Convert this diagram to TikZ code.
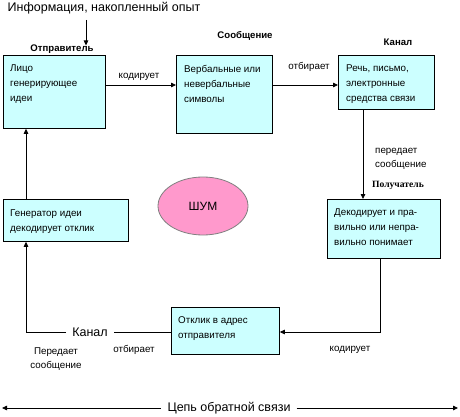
\documentclass[tikz,border=0pt]{standalone}
\usepackage{fontspec}
\setmainfont{Liberation Sans}
\newfontfamily\serifbold{Liberation Serif}
\usetikzlibrary{arrows.meta,shapes.geometric}
\definecolor{boxfill}{HTML}{CCFFFF}
\definecolor{noisefill}{HTML}{FF99CC}
\definecolor{noiseline}{HTML}{808080}
\begin{document}
\begin{tikzpicture}[x=1pt,y=-1pt,
  box/.style={draw=black, fill=boxfill, line width=0.8pt, anchor=north west, inner sep=0pt},
  txt/.style={anchor=north west, align=left, inner sep=0pt, font=\fontsize{9.8}{15}\selectfont},
  lbl/.style={align=center, inner sep=0pt, font=\fontsize{9.8}{14}\selectfont},
  head/.style={inner sep=0pt, font=\fontsize{9.6}{12}\selectfont\bfseries},
  big/.style={inner sep=0pt, font=\fontsize{12.5}{15}\selectfont},
  conn/.style={draw=black, line width=0.8pt},
  arr/.style={conn, -{Triangle[length=5pt,width=4.5pt]}},
  darr/.style={conn, {Triangle[length=5pt,width=4.5pt]}-{Triangle[length=5pt,width=4.5pt]}}
]
\useasboundingbox (0,0) rectangle (460,417);

% top text
\node[big] (info) at (104,8) {Информация, накопленный опыт};
\coordinate (infoarr) at (86,20);

% boxes
\node[box, minimum width=102, minimum height=73] (b1) at (3,55) {};
\node[box, minimum width=96, minimum height=78] (b2) at (176,55) {};
\node[box, minimum width=96, minimum height=54] (b3) at (338,55) {};
\node[box, minimum width=113, minimum height=59] (b4) at (327,199) {};
\node[box, minimum width=108, minimum height=47] (b5) at (171,307) {};
\node[box, minimum width=125, minimum height=42] (b6) at (3,199) {};

% box texts
\node[txt] (t1) at (10,65) {Лицо\\генерирующее\\идеи};
\node[txt] (t2) at (184,65) {Вербальные или\\невербальные\\символы};
\node[txt] (t3) at (346,65) {Речь, письмо,\\электронные\\средства связи};
\node[txt] (t4) at (334,209) {Декодирует и пра-\\вильно или непра-\\вильно понимает};
\node[txt] (t5) at (178,316) {Отклик в адрес\\отправителя};
\node[txt] (t6) at (10,210) {Генератор идеи\\декодирует отклик};

% headings
\node[head] (h1) at (62,49) {Отправитель};
\node[head] (h2) at (245,36) {Сообщение};
\node[head] (h3) at (398,42) {Канал};
\node[inner sep=0pt, font=\fontsize{9.6}{12}\selectfont\serifbold\bfseries] (h4) at (398,185) {Получатель};

% noise
\node[ellipse, draw=noiseline, fill=noisefill, line width=0.8pt, minimum width=90, minimum height=58, inner sep=0pt, font=\fontsize{12}{14}\selectfont] (noise) at (203,206) {ШУМ};

% connector labels
\node[lbl] (l1) at (139,77) {кодирует};
\node[lbl] (l2) at (309,67) {отбирает};
\node[lbl, anchor=north west, align=left] (l3) at (375,148) {передает\\сообщение};
\node[lbl] (l4) at (350,350) {кодирует};
\node[lbl] (l5) at (134,350) {отбирает};
\node[lbl, anchor=north] (l6) at (56,348) {Передает\\сообщение};

% connectors
\draw[arr] (infoarr) -- ([yshift=-1pt]h1.north -| infoarr);
\draw[arr] (b1.east |- 0,85) -- (b2.west |- 0,85);
\draw[arr] (b2.east |- 0,85) -- (b3.west |- 0,85);
\draw[arr] (b3.south -| 363,0) -- (b4.north -| 363,0);
\coordinate (c45) at (380,332);
\draw[arr] (b4.south -| c45) -- (c45) -- (b5.east |- c45);
\node[big, fill=white, inner xsep=6pt, inner ysep=2pt] (kanal2) at (90,332) {Канал};
\coordinate (c56) at (26,332);
\draw[conn] (b5.west |- c56) -- (kanal2.east);
\draw[arr] (kanal2.west) -- (c56) -- (b6.south -| c56);
\draw[arr] (b6.north -| c56) -- (b1.south -| c56);

% bottom feedback arrow
\coordinate (fbl) at (2,408);
\coordinate (fbr) at (458,408);
\node[big, fill=white, inner xsep=6pt, inner ysep=2pt] (fbt) at (229,408) {Цепь обратной связи};
\draw[conn, {Triangle[length=5pt,width=4.5pt]}-] (fbl) -- (fbt.west);
\draw[arr] (fbt.east) -- (fbr);
\end{tikzpicture}
\end{document}
